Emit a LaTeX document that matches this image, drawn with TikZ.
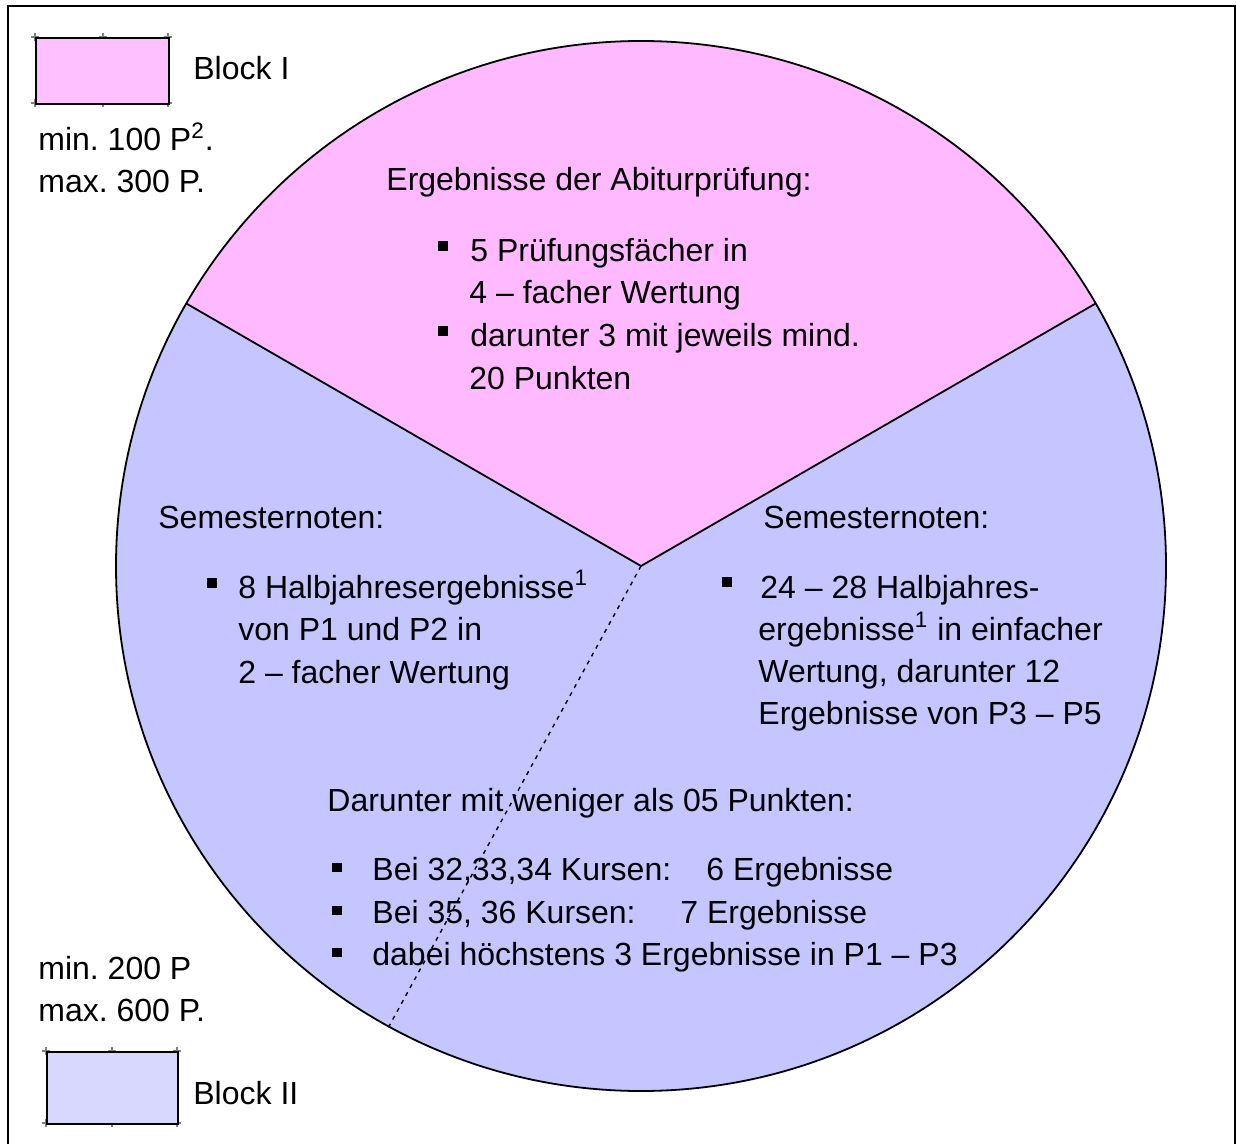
\documentclass[tikz,border=0pt]{standalone}
\usepackage{fontspec}
\setmainfont{Liberation Sans}
\frenchspacing
\definecolor{pinkfill}{RGB}{255,185,255}
\definecolor{bluefill}{RGB}{197,197,255}
\definecolor{pinklegend}{RGB}{255,192,255}
\definecolor{bluelegend}{RGB}{216,216,255}
\newcommand{\fsz}{\fontsize{16pt}{21pt}\selectfont\frenchspacing}
\begin{document}
\begin{tikzpicture}[x=0.5pt,y=-0.5pt,
  txt/.style={anchor=base west, inner sep=0pt, font=\fsz},
  bul/.style={rectangle, fill=black, inner sep=0pt, minimum size=5pt},
  bulsm/.style={rectangle, fill=black, inner sep=0pt, minimum width=5pt, minimum height=4.5pt},
  tick/.style={draw=gray, line width=0.6pt},
  legbox/.style={draw=black, line width=1pt}]
\useasboundingbox (0,0) rectangle (1236,1144);
% frame
\draw[line width=1pt] (8,1150) -- (8,6) -- (1235,6) -- (1235,1150);
% pie
\coordinate (c) at (641,566);
\path (c) ++(-150:525) coordinate (pl);
\path (c) ++(-30:525) coordinate (pr);
\path (c) ++(118.7:526) coordinate (pd);
\fill[bluefill] (c) circle[radius=525];
\fill[pinkfill] (c) -- (pl) arc[start angle=-150, end angle=-30, radius=525] -- cycle;
\draw[line width=0.9pt] (c) circle[radius=525];
\draw[line width=0.9pt] (pl) -- (c) -- (pr);
\draw[line width=0.7pt, dash pattern=on 2pt off 2.5pt] (c) -- (pd);
% legend I
\foreach \px/\py in {35/37,103/37,168/37,35/103,103/103,168/103}{
  \draw[tick] (\px-4,\py) -- (\px+4,\py) (\px,\py-4) -- (\px,\py+4);}
\node[legbox, fill=pinklegend, inner sep=0pt, minimum width=66.5pt, minimum height=33pt, anchor=north west] (leg1) at (35,37) {};
\foreach \px/\py in {46/1051,112/1051,177/1051,46/1123,112/1123,177/1123}{
  \draw[tick] (\px-4,\py) -- (\px+4,\py) (\px,\py-4) -- (\px,\py+4);}
\node[legbox, fill=bluelegend, inner sep=0pt, minimum width=65.5pt, minimum height=36pt, anchor=north west] (leg2) at (46,1051) {};
\node[txt] (t1) at (193,80) {Block I};
\node[txt] (t2) at (38,151) {min. 100 P\textsuperscript{2}.};
\node[txt] (t3) at (38,193) {max. 300 P.};
\node[txt] (t4) at (38,979) {min. 200 P};
\node[txt] (t5) at (38,1021) {max. 600 P.};
\node[txt] (t6) at (193,1104) {Block II};
% top sector
\node[txt] (a0) at (386,191) {Ergebnisse der Abiturprüfung:};
\node[bul] (ab1) at (442.5,246) {};
\node[txt] (a1) at (470,262) {5 Prüfungsfächer in};
\node[txt] (a2) at (469,304) {4 – facher Wertung};
\node[bul] (ab2) at (442.5,331) {};
\node[txt] (a3) at (470,347) {darunter 3 mit jeweils mind.};
\node[txt] (a4) at (469,389) {20 Punkten};
% left sector
\node[txt] (l0) at (158,528) {Semesternoten:};
\node[bul] (lb1) at (212,583) {};
\node[txt] (l1) at (238,598) {8 Halbjahresergebnisse\textsuperscript{1}};
\node[txt] (l2) at (238,640) {von P1 und P2 in};
\node[txt] (l3) at (238,683) {2 – facher Wertung};
% right sector
\node[txt] (r0) at (763,528) {Semesternoten:};
\node[bul] (rb1) at (727,582) {};
\node[txt] (r1) at (760,598) {24 – 28 Halbjahres-};
\node[txt] (r2) at (758,640) {ergebnisse\textsuperscript{1} in einfacher};
\node[txt] (r3) at (758,682) {Wertung, darunter 12};
\node[txt] (r4) at (758,724) {Ergebnisse von P3 – P5};
% bottom
\node[txt] (d0) at (327,811) {Darunter mit weniger als 05 Punkten:};
\node[bulsm] (db1) at (336.5,867) {};
\node[txt] (d1) at (372,880) {Bei 32,33,34 Kursen:};
\node[txt] (d1b) at (706,880) {6 Ergebnisse};
\node[bulsm] (db2) at (336.5,910) {};
\node[txt] (d2) at (372,923) {Bei 35, 36 Kursen:};
\node[txt] (d2b) at (680,923) {7 Ergebnisse};
\node[bulsm] (db3) at (336.5,952) {};
\node[txt] (d3) at (372,965) {dabei höchstens 3 Ergebnisse in P1 – P3};
\end{tikzpicture}
\end{document}
